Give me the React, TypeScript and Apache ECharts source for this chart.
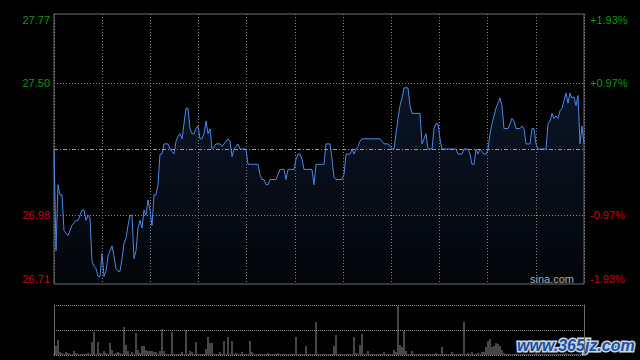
import React, { useEffect, useRef } from "react";
import * as echarts from "echarts";

const prevClose = 27.24;
const priceMin = 26.71;
const priceMax = 27.77;
const priceTicks = [26.71, 26.98, 27.5, 27.77];
const priceTickLabels = ["26.71", "26.98", "27.50", "27.77"];
const pctTickLabels = ["-1.93%", "-0.97%", "+0.97%", "+1.93%"];
const gridPrices = [26.98, 27.5];
const timeGridCount = 11;
const volumeMax = 50;

const prices = [
  27.24, 26.84, 27.1, 27.06, 27.06, 26.92, 26.91, 26.9, 26.92, 26.94,
  26.95, 26.96, 26.96, 26.98, 27.0, 27.0, 26.96, 26.98, 26.97, 26.8,
  26.78, 26.77, 26.74, 26.74, 26.83, 26.74, 26.76, 26.82, 26.84, 26.86,
  26.82, 26.77, 26.76, 26.76, 26.81, 26.87, 26.89, 26.94, 26.98, 26.98,
  26.81, 26.84, 26.93, 26.96, 26.93, 27.0, 26.98, 27.04, 27.0, 26.94,
  27.06, 27.06, 27.1, 27.22, 27.22, 27.26, 27.26, 27.26, 27.24, 27.23,
  27.22, 27.27, 27.29, 27.3, 27.28, 27.34, 27.4, 27.4, 27.32, 27.3,
  27.3, 27.32, 27.33, 27.28, 27.28, 27.3, 27.35, 27.3, 27.32, 27.24,
  27.25, 27.26, 27.26, 27.26, 27.25, 27.26, 27.27, 27.28, 27.27, 27.21,
  27.24, 27.25, 27.26, 27.24, 27.24, 27.24, 27.24, 27.18, 27.18, 27.18,
  27.18, 27.18, 27.18, 27.14, 27.12, 27.12, 27.1, 27.1, 27.12, 27.12,
  27.12, 27.12, 27.14, 27.16, 27.16, 27.16, 27.12, 27.16, 27.16, 27.16,
  27.16, 27.2, 27.22, 27.22, 27.2, 27.16, 27.16, 27.16, 27.16, 27.16,
  27.1, 27.18, 27.18, 27.18, 27.18, 27.18, 27.26, 27.26, 27.26, 27.2,
  27.13, 27.12, 27.12, 27.12, 27.12, 27.14, 27.22, 27.22, 27.22, 27.24,
  27.22, 27.24, 27.25, 27.27, 27.28, 27.28, 27.28, 27.28, 27.28, 27.28,
  27.28, 27.28, 27.28, 27.28, 27.27, 27.26, 27.26, 27.26, 27.25, 27.24,
  27.24, 27.3, 27.36, 27.41, 27.44, 27.48, 27.48, 27.48, 27.41, 27.38,
  27.38, 27.38, 27.38, 27.38, 27.26, 27.28, 27.3, 27.24, 27.24, 27.24,
  27.32, 27.34, 27.34, 27.28, 27.24, 27.24, 27.24, 27.24, 27.24, 27.24,
  27.24, 27.24, 27.22, 27.22, 27.22, 27.24, 27.24, 27.24, 27.22, 27.18,
  27.18, 27.24, 27.22, 27.24, 27.23, 27.22, 27.22, 27.24, 27.3, 27.34,
  27.37, 27.4, 27.42, 27.44, 27.41, 27.32, 27.32, 27.32, 27.34, 27.36,
  27.35, 27.32, 27.32, 27.32, 27.33, 27.32, 27.26, 27.26, 27.26, 27.32,
  27.32, 27.26, 27.24, 27.24, 27.24, 27.24, 27.24, 27.34, 27.35, 27.38,
  27.36, 27.37, 27.36, 27.39, 27.4, 27.43, 27.46, 27.42, 27.46, 27.44,
  27.445, 27.41, 27.45, 27.26, 27.33, 27.26,
];

const volumes = [
  1, 9, 15, 3, 2, 1, 3, 2, 1, 1,
  4, 2, 1, 1, 1, 1, 1, 2, 1, 13,
  23, 1, 13, 2, 1, 4, 2, 1, 12, 5,
  1, 2, 3, 2, 1, 28, 10, 4, 1, 3,
  1, 22, 5, 2, 9, 9, 5, 4, 4, 4,
  3, 3, 1, 4, 26, 4, 1, 1, 1, 23,
  1, 1, 1, 1, 3, 1, 25, 1, 4, 3,
  1, 13, 1, 1, 1, 1, 6, 18, 12, 12,
  1, 1, 1, 3, 1, 14, 1, 18, 1, 14,
  1, 2, 1, 1, 3, 1, 1, 1, 14, 3,
  1, 1, 1, 1, 1, 1, 1, 2, 1, 1,
  1, 1, 2, 1, 1, 1, 1, 1, 1, 1,
  1, 18, 1, 1, 1, 1, 9, 1, 1, 1,
  1, 33, 1, 1, 1, 1, 1, 1, 1, 1,
  9, 20, 1, 1, 1, 1, 1, 1, 1, 1,
  18, 2, 1, 10, 21, 1, 1, 4, 1, 1,
  1, 1, 1, 1, 1, 3, 1, 1, 1, 1,
  5, 3, 49, 10, 8, 24, 4, 1, 1, 4,
  1, 1, 1, 1, 1, 1, 1, 1, 1, 1,
  1, 2, 1, 1, 8, 1, 1, 1, 1, 3,
  1, 1, 1, 1, 1, 33, 1, 2, 1, 3,
  1, 1, 2, 1, 3, 3, 8, 14, 16, 8,
  9, 12, 11, 9, 5, 2, 1, 1, 1, 1,
  1, 1, 1, 1, 1, 1, 1, 1, 1, 1,
  1, 2, 1, 1, 1, 1, 1, 1, 1, 1,
  1, 1, 1, 1, 1, 1, 2, 1, 1, 1,
  1, 1, 1, 1, 1, 2,
];

const timeSlots = prices.map((_, i) => String(i));

const GREEN = "#0a9a0a";
const RED = "#d40000";
const FONT = "'Liberation Sans', Arial, sans-serif";

function tickIndex(v: number) {
  return priceTicks.findIndex((t) => Math.abs(t - v) < 1e-6);
}

export default function App() {
  const ref = useRef<HTMLDivElement>(null);

  useEffect(() => {
    if (!ref.current) return;
    const chart = echarts.init(ref.current, null, { renderer: "svg" });
    const dotted = { color: "#8a8a8a", width: 1, type: [1, 2] as any };

    chart.setOption({
      animation: false,
      backgroundColor: "#000",
      grid: [
        { left: 54, top: 14, width: 530, height: 270, show: true, borderColor: "#6e6e6e", borderWidth: 1, backgroundColor: "transparent" },
        { left: 54, top: 305, width: 530, height: 50, show: false },
      ],
      xAxis: [
        {
          type: "category", gridIndex: 0, data: timeSlots, boundaryGap: false,
          axisLine: { show: false }, axisTick: { show: false }, axisLabel: { show: false }, splitLine: { show: false },
        },
        {
          type: "value", gridIndex: 0, min: 0, max: timeGridCount, interval: 1,
          axisLine: { show: false }, axisTick: { show: false }, axisLabel: { show: false },
          splitLine: { show: true, lineStyle: dotted },
        },
        {
          type: "category", gridIndex: 1, data: timeSlots, boundaryGap: false,
          axisLine: { show: false }, axisTick: { show: false }, axisLabel: { show: false }, splitLine: { show: false },
        },
      ],
      yAxis: [
        {
          type: "value", gridIndex: 0, min: priceMin, max: priceMax, position: "left",
          axisLine: { show: false }, axisTick: { show: false }, splitLine: { show: false },
          axisLabel: {
            customValues: priceTicks,
            fontSize: 11, fontFamily: FONT, margin: 4,
            verticalAlignMinLabel: "bottom", verticalAlignMaxLabel: "top",
            formatter: (v: number) => { const i = tickIndex(v); return i >= 0 ? priceTickLabels[i] : ""; },
            color: (v: any) => (Number(v) > prevClose ? GREEN : RED),
          },
        },
        {
          type: "value", gridIndex: 0, min: priceMin, max: priceMax, position: "right",
          axisLine: { show: false }, axisTick: { show: false }, splitLine: { show: false },
          axisLabel: {
            customValues: priceTicks,
            fontSize: 11, fontFamily: FONT, margin: 6,
            verticalAlignMinLabel: "bottom", verticalAlignMaxLabel: "top",
            formatter: (v: number) => { const i = tickIndex(v); return i >= 0 ? pctTickLabels[i] : ""; },
            color: (v: any) => (Number(v) > prevClose ? GREEN : RED),
          },
        },
        {
          type: "value", gridIndex: 1, min: 0, max: volumeMax, interval: volumeMax / 2, position: "left",
          axisLine: { show: true, lineStyle: { color: "#6e6e6e", width: 1 } },
          axisTick: { show: false }, axisLabel: { show: false },
          splitLine: { show: true, lineStyle: { color: "#8a8a8a", width: 1, type: [1, 1] } },
        },
        {
          type: "value", gridIndex: 1, min: 0, max: volumeMax, position: "right",
          axisLine: { show: true, lineStyle: { color: "#6e6e6e", width: 1 } },
          axisTick: { show: false }, axisLabel: { show: false }, splitLine: { show: false },
        },
      ],
      series: [
        {
          type: "line",
          xAxisIndex: 0,
          yAxisIndex: 0,
          data: prices,
          symbol: "none",
          lineStyle: { color: "#4a88e8", width: 1 },
          areaStyle: {
            origin: "start",
            color: new echarts.graphic.LinearGradient(0, 0, 0, 1, [
              { offset: 0, color: "rgba(40,70,130,0.42)" },
              { offset: 1, color: "rgba(40,70,130,0.10)" },
            ]),
          },
          markLine: {
            silent: true,
            symbol: "none",
            label: { show: false },
            data: [
              ...gridPrices.map((p) => ({ yAxis: p, lineStyle: { color: "#8a8a8a", width: 1, type: [1, 2] } })),
              { yAxis: prevClose, lineStyle: { color: "#9a9a9a", width: 1, type: [4, 2, 1, 2] } },
            ],
          },
        },
        {
          type: "bar",
          xAxisIndex: 2,
          yAxisIndex: 2,
          data: volumes,
          barWidth: 1,
          itemStyle: { color: "#8c8c8c" },
        },
      ],
      graphic: [
        {
          type: "text",
          x: 574,
          y: 284,
          style: {
            text: "sina.com", fill: "#b4b4b4", font: "11px 'Liberation Sans', Arial, sans-serif",
            align: "right", verticalAlign: "bottom", textAlign: "right", textVerticalAlign: "bottom",
          },
        },
        {
          type: "text",
          x: 517,
          y: 337,
          style: {
            text: "www.365jz.com", fill: "#c9d3e2", stroke: "#c9d3e2", lineWidth: 3,
            font: "italic bold 16px 'Liberation Sans', Arial, sans-serif",
          },
        },
        {
          type: "text",
          x: 517,
          y: 337,
          style: {
            text: "www.365jz.com", fill: "#1d4f9e",
            font: "italic bold 16px 'Liberation Sans', Arial, sans-serif",
          },
        },
      ],
    });

    return () => chart.dispose();
  }, []);

  return (
    <div style={{ position: "absolute", left: 0, top: 0, width: 640, height: 360, background: "#000" }}>
      <div ref={ref} style={{ width: 640, height: 360 }} />
    </div>
  );
}
